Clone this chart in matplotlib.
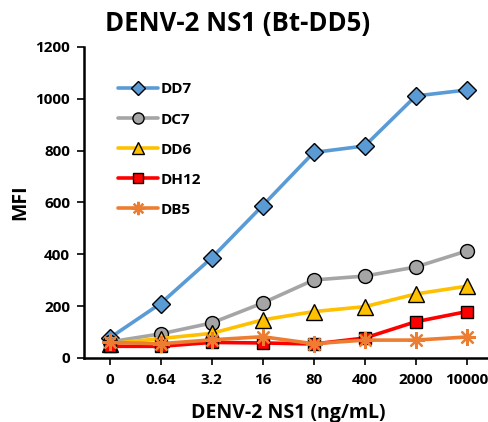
import matplotlib
matplotlib.use("Agg")
import matplotlib.pyplot as plt
import numpy as np

plt.rcParams['font.family'] = ['Open Sans', 'DejaVu Sans']

concentrations = ["0", "0.64", "3.2", "16", "80", "400", "2000", "10000"]
dd7 = [77, 210, 386, 588, 793, 818, 1011, 1034]
dc7 = [62, 93, 135, 212, 301, 316, 351, 413]
dd6 = [55, 75, 95, 147, 179, 198, 247, 277]
dh12 = [45, 45, 60, 58, 54, 77, 140, 179]
db5 = [60, 55, 70, 82, 55, 69, 69, 81]

series = [
    ("DD7", dd7, "#5B9BD5", "D", 9.5),
    ("DC7", dc7, "#A5A5A5", "o", 10),
    ("DD6", dd6, "#FFC000", "^", 11),
    ("DH12", dh12, "#FF0000", "s", 9),
    ("DB5", db5, "#ED7D31", (8, 2, 0), 12),
]

fig = plt.figure(figsize=(4.89, 4.22), dpi=100)
ax = fig.add_axes([0.1718, 0.1517, 0.835, 0.737])

x = np.arange(len(concentrations))
for name, vals, color, marker, ms in series:
    if isinstance(marker, tuple):
        ax.plot(x, vals, color=color, lw=2.6, marker=marker, ms=ms,
                markeredgecolor=color, markerfacecolor=color, mew=1.6,
                label=name, solid_capstyle='round')
    else:
        ax.plot(x, vals, color=color, lw=2.6, marker=marker, ms=ms,
                markerfacecolor=color, markeredgecolor='black', mew=1.0,
                label=name, solid_capstyle='round')

ax.set_xlim(-0.5, len(concentrations) - 0.5)
ax.set_ylim(0, 1200)
ax.set_yticks(np.arange(0, 1201, 200))
ax.set_xticks(x)
ax.set_xticklabels(concentrations)

for s in ['top', 'right']:
    ax.spines[s].set_visible(False)
for s in ['left', 'bottom']:
    ax.spines[s].set_linewidth(1.8)
ax.tick_params(axis='both', direction='out', length=5, width=1.2,
               labelsize=11)
ax.tick_params(axis='x', pad=6)
ax.tick_params(axis='y', pad=5)
for lbl in ax.get_xticklabels() + ax.get_yticklabels():
    lbl.set_fontweight('bold')

ax.set_ylabel("MFI", fontsize=14, fontweight='bold', labelpad=4)
ax.set_xlabel("DENV-2 NS1 (ng/mL)", fontsize=14, fontweight='bold', labelpad=11)
fig.text(0.485, 0.945, "DENV-2 NS1 (Bt-DD5)", ha='center', va='center',
         fontsize=18.5, fontweight='bold')

leg = ax.legend(loc='upper left', bbox_to_anchor=(0.05, 0.93), frameon=False,
                handlelength=2.6, labelspacing=1.05, handletextpad=0.2,
                markerscale=0.8, prop={'weight': 'bold', 'size': 11})

fig.savefig("out.png", dpi=100)
